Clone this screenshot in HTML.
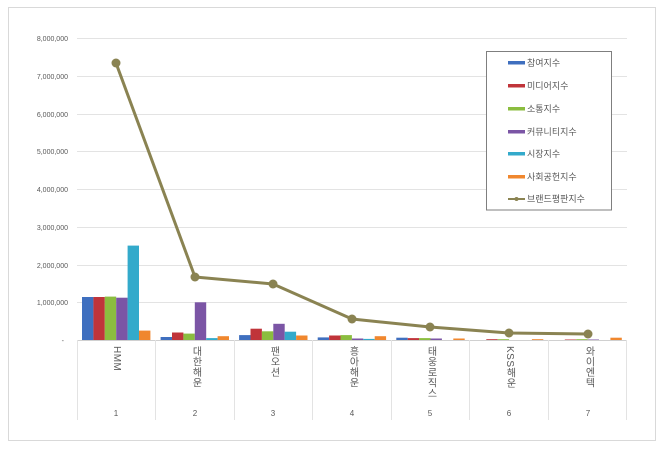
<!DOCTYPE html>
<html><head><meta charset="utf-8"><style>
body{margin:0;background:#fff;}
#w{position:relative;width:660px;height:450px;overflow:hidden;background:#fff;font-family:"Liberation Sans","Noto Sans CJK KR",sans-serif;}
.v{position:absolute;top:346px;writing-mode:vertical-rl;font-size:10px;line-height:12px;color:#595959;letter-spacing:0.5px;}
</style></head><body><div id="w">
<svg width="660" height="450" style="position:absolute;left:0;top:0">
<rect x="8.5" y="7.5" width="647" height="433" fill="#fff" stroke="#d9d9d9"/>
<g stroke="#e3e3e3" stroke-width="1">
<line x1="77" x2="627" y1="38.5" y2="38.5"/><line x1="77" x2="627" y1="76.5" y2="76.5"/>
<line x1="77" x2="627" y1="114.5" y2="114.5"/><line x1="77" x2="627" y1="151.5" y2="151.5"/>
<line x1="77" x2="627" y1="189.5" y2="189.5"/><line x1="77" x2="627" y1="227.5" y2="227.5"/>
<line x1="77" x2="627" y1="265.5" y2="265.5"/><line x1="77" x2="627" y1="302.5" y2="302.5"/>
<line x1="77" x2="627" y1="340.5" y2="340.5" stroke="#d0d0d0"/>
<line x1="77.5" x2="77.5" y1="340" y2="420"/><line x1="155.5" x2="155.5" y1="340" y2="420"/>
<line x1="234.5" x2="234.5" y1="340" y2="420"/><line x1="312.5" x2="312.5" y1="340" y2="420"/>
<line x1="391.5" x2="391.5" y1="340" y2="420"/><line x1="469.5" x2="469.5" y1="340" y2="420"/>
<line x1="548.5" x2="548.5" y1="340" y2="420"/><line x1="626.5" x2="626.5" y1="340" y2="420"/>
</g>
<g font-size="7" fill="#595959" text-anchor="end">
<text x="68" y="41">8,000,000</text><text x="68" y="79">7,000,000</text>
<text x="68" y="117">6,000,000</text><text x="68" y="154">5,000,000</text>
<text x="68" y="192">4,000,000</text><text x="68" y="230">3,000,000</text>
<text x="68" y="268">2,000,000</text><text x="68" y="305">1,000,000</text>
<text x="64" y="343">-</text>
</g>
<g font-size="8" fill="#595959" text-anchor="middle">
<text x="116" y="416">1</text><text x="195" y="416">2</text><text x="273" y="416">3</text>
<text x="352" y="416">4</text><text x="430" y="416">5</text><text x="509" y="416">6</text><text x="588" y="416">7</text>
</g>
<!-- bars -->
<g>
<rect x="82" y="297" width="11.4" height="43" fill="#3f6fbf"/>
<rect x="93.4" y="297" width="11.4" height="43" fill="#c0343a"/>
<rect x="104.8" y="296.6" width="11.4" height="43.4" fill="#8bbd3f"/>
<rect x="116.2" y="297.7" width="11.4" height="42.3" fill="#7b55a5"/>
<rect x="127.6" y="245.6" width="11.4" height="94.4" fill="#33aacb"/>
<rect x="139" y="330.6" width="11.4" height="9.4" fill="#f0872e"/>

<rect x="160.6" y="337" width="11.4" height="3" fill="#3f6fbf"/>
<rect x="172" y="332.5" width="11.4" height="7.5" fill="#c0343a"/>
<rect x="183.4" y="333.6" width="11.4" height="6.4" fill="#8bbd3f"/>
<rect x="194.8" y="302.3" width="11.4" height="37.7" fill="#7b55a5"/>
<rect x="206.2" y="338.1" width="11.4" height="1.9" fill="#33aacb"/>
<rect x="217.6" y="336.2" width="11.4" height="3.8" fill="#f0872e"/>

<rect x="239.1" y="335.1" width="11.4" height="4.9" fill="#3f6fbf"/>
<rect x="250.5" y="328.7" width="11.4" height="11.3" fill="#c0343a"/>
<rect x="261.9" y="331.3" width="11.4" height="8.7" fill="#8bbd3f"/>
<rect x="273.3" y="323.8" width="11.4" height="16.2" fill="#7b55a5"/>
<rect x="284.7" y="331.7" width="11.4" height="8.3" fill="#33aacb"/>
<rect x="296.1" y="335.5" width="11.4" height="4.5" fill="#f0872e"/>

<rect x="317.7" y="337.4" width="11.4" height="2.6" fill="#3f6fbf"/>
<rect x="329.1" y="335.5" width="11.4" height="4.5" fill="#c0343a"/>
<rect x="340.5" y="335.1" width="11.4" height="4.9" fill="#8bbd3f"/>
<rect x="351.9" y="338.5" width="11.4" height="1.5" fill="#7b55a5"/>
<rect x="363.3" y="338.9" width="11.4" height="1.1" fill="#33aacb"/>
<rect x="374.7" y="336.2" width="11.4" height="3.8" fill="#f0872e"/>

<rect x="396.3" y="337.7" width="11.4" height="2.3" fill="#3f6fbf"/>
<rect x="407.7" y="338.1" width="11.4" height="1.9" fill="#c0343a"/>
<rect x="419.1" y="338.1" width="11.4" height="1.9" fill="#8bbd3f"/>
<rect x="430.5" y="338.5" width="11.4" height="1.5" fill="#7b55a5"/>
<rect x="453.3" y="338.5" width="11.4" height="1.5" fill="#f0872e"/>

<rect x="486.3" y="339.2" width="11.4" height="0.8" fill="#c0343a"/>
<rect x="497.7" y="339.2" width="11.4" height="0.8" fill="#8bbd3f"/>
<rect x="531.9" y="339.2" width="11.4" height="0.8" fill="#f0872e"/>

<rect x="564.8" y="339.5" width="11.4" height="0.5" fill="#c0343a"/>
<rect x="576.2" y="339.2" width="11.4" height="0.8" fill="#8bbd3f"/>
<rect x="587.6" y="339.5" width="11.4" height="0.5" fill="#7b55a5"/>
<rect x="610.4" y="337.7" width="11.4" height="2.3" fill="#f0872e"/>
</g>
<polyline points="116,63 195,277 273,284 352,319 430,327 509,333 588,334" fill="none" stroke="#8a8352" stroke-width="3" stroke-linejoin="round"/>
<g fill="#8a8352">
<circle cx="116" cy="63" r="4.5"/><circle cx="195" cy="277" r="4.5"/><circle cx="273" cy="284" r="4.5"/>
<circle cx="352" cy="319" r="4.5"/><circle cx="430" cy="327" r="4.5"/><circle cx="509" cy="333" r="4.5"/><circle cx="588" cy="334" r="4.5"/>
</g>
<!-- legend -->
<rect x="486.5" y="51.5" width="125" height="158.5" fill="#fff" stroke="#7f7f7f"/>
<g font-size="9" fill="#595959">
<rect x="508" y="61" width="17" height="3.5" fill="#3f6fbf"/><text x="527" y="66">참여지수</text>
<rect x="508" y="84" width="17" height="3.5" fill="#c0343a"/><text x="527" y="89">미디어지수</text>
<rect x="508" y="107" width="17" height="3.5" fill="#8bbd3f"/><text x="527" y="112">소통지수</text>
<rect x="508" y="130" width="17" height="3.5" fill="#7b55a5"/><text x="527" y="135">커뮤니티지수</text>
<rect x="508" y="152" width="17" height="3.5" fill="#33aacb"/><text x="527" y="157">시장지수</text>
<rect x="508" y="175" width="17" height="3.5" fill="#f0872e"/><text x="527" y="180">사회공헌지수</text>
<line x1="508" x2="525" y1="199" y2="199" stroke="#8a8352" stroke-width="2"/><circle cx="516.5" cy="199" r="2" fill="#8a8352"/><text x="527" y="202">브랜드평판지수</text>
</g>
</svg>
<div class="v" style="left:110px;">HMM</div>
<div class="v" style="left:189px;">대한해운</div>
<div class="v" style="left:267px;">팬오션</div>
<div class="v" style="left:346px;">흥아해운</div>
<div class="v" style="left:424px;">태웅로직스</div>
<div class="v" style="left:503px;">KSS해운</div>
<div class="v" style="left:582px;">와이엔텍</div>
</div></body></html>
